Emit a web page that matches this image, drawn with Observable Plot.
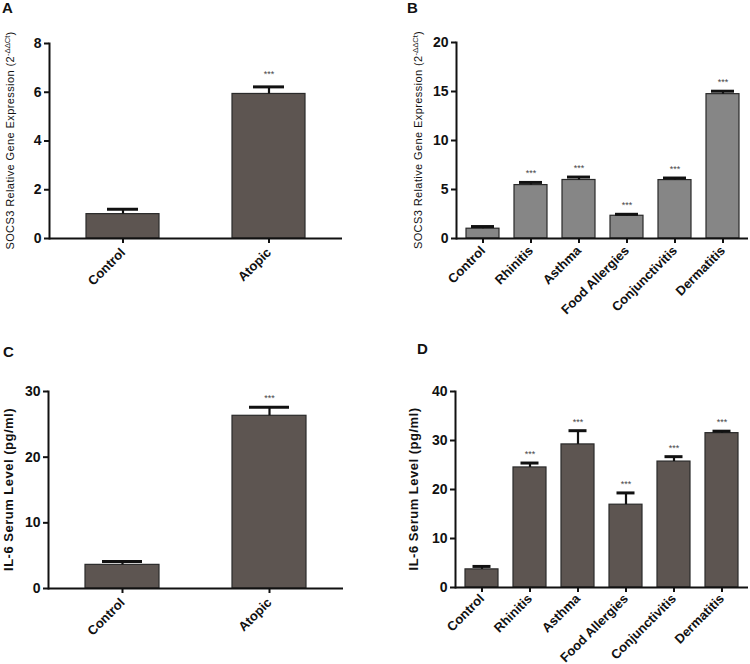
<!DOCTYPE html>
<html>
<head>
<meta charset="utf-8">
<script src="https://cdn.jsdelivr.net/npm/d3@7"></script>
<script src="https://cdn.jsdelivr.net/npm/@observablehq/plot@0.6"></script>
<style>
  body { margin: 0; background: #fff; }
  #wrap { position: relative; width: 750px; height: 664px; font-family: "Liberation Sans", Arial, sans-serif; overflow: hidden; }
  .panel { position: absolute; }
  .panel svg { overflow: visible; }
  .letter { position: absolute; font-weight: bold; font-size: 15px; color: #111; }
</style>
</head>
<body>
<div id="wrap"></div>
<script>
// ---- data ----
const groupsTwo = ["Control", "Atopic"];
const groupsSix = ["Control", "Rhinitis", "Asthma", "Food Allergies", "Conjunctivitis", "Dermatitis"];

const socsAtopicMean = [1.0, 5.93];
const socsAtopicErr  = [1.2, 6.22];

const socsDiseaseMean = [1.0, 5.45, 5.97, 2.32, 5.96, 14.73];
const socsDiseaseErr  = [1.22, 5.72, 6.27, 2.47, 6.17, 15.03];

const il6AtopicMean = [3.6, 26.3];
const il6AtopicErr  = [4.1, 27.6];

const il6DiseaseMean = [3.7, 24.5, 29.2, 16.9, 25.7, 31.5];
const il6DiseaseErr  = [4.3, 25.4, 32.0, 19.3, 26.7, 31.9];

const socsTicksA = [0, 2, 4, 6, 8];
const socsTicksB = [0, 5, 10, 15, 20];
const il6TicksC = [0, 10, 20, 30];
const il6TicksD = [0, 10, 20, 30, 40];

const stars = "***";
// ---------------

const FONT = "Liberation Sans, Arial, sans-serif";

function table(cats, means, errs) {
  return cats.map((c, i) => ({cat: c, value: means[i], err: errs[i], sig: i > 0 ? stars : ""}));
}

function panel(cfg) {
  const data = table(cfg.cats, cfg.means, cfg.errs);
  const svg = Plot.plot({
    width: cfg.width, height: cfg.height,
    marginLeft: cfg.ml, marginRight: cfg.mr, marginTop: cfg.mt, marginBottom: cfg.mb,
    style: {fontFamily: FONT, background: "transparent", color: "#111"},
    x: {domain: cfg.cats, paddingInner: cfg.pad, paddingOuter: cfg.pad / 2, label: null},
    y: {domain: [cfg.ticks[0], cfg.ticks[cfg.ticks.length - 1]], label: null},
    marks: [
      Plot.barY(data, {x: "cat", y: "value", fill: cfg.fill, stroke: "#2a2a2a", strokeWidth: 1.2}),
      Plot.ruleX(data, {x: "cat", y1: "value", y2: "err", stroke: "#111", strokeWidth: 2.2}),
      Plot.tickY(data, {x: "cat", y: "err", stroke: "#111", strokeWidth: 3, insetLeft: cfg.capInset, insetRight: cfg.capInset}),
      Plot.text(data, {x: "cat", y: "err", text: "sig", dy: -cfg.starGap, fontSize: 9, fill: "#444", fontFamily: FONT}),
      Plot.axisY({ticks: cfg.ticks, tickSize: 5, tickPadding: 3, fontSize: 14, fontWeight: "bold", strokeWidth: 2, label: null, fill: "#111"}),
      Plot.axisX({tickRotate: -45, tickSize: 5, tickPadding: cfg.xpad, fontSize: 13, fontWeight: "bold", strokeWidth: 2, label: null, fill: "#111"}),
      Plot.frame({anchor: "left", stroke: "#111", strokeWidth: 2}),
      Plot.ruleY([cfg.ticks[0]], {stroke: "#111", strokeWidth: 2})
    ]
  });
  // y-axis title
  const s = d3.select(svg);
  const cy = (cfg.mt + (cfg.height - cfg.mb)) / 2;
  const t = s.append("text")
    .attr("transform", `translate(${cfg.titleX},${cy}) rotate(-90)`)
    .attr("text-anchor", "middle")
    .attr("font-family", FONT)
    .attr("font-size", cfg.titleSize)
    .attr("font-weight", cfg.titleWeight)
    .attr("letter-spacing", cfg.titleSpacing)
    .attr("fill", "#111");
  t.append("tspan").text(cfg.title);
  if (cfg.sup) {
    t.append("tspan").attr("font-size", cfg.titleSize * 0.7).attr("dy", -4).attr("letter-spacing", 0).text(cfg.sup);
    t.append("tspan").attr("dy", 4).text(")");
  }
  return svg;
}

const wrap = document.getElementById("wrap");
function place(node, left, top) {
  const d = document.createElement("div");
  d.className = "panel";
  d.style.left = left + "px";
  d.style.top = top + "px";
  d.appendChild(node);
  wrap.appendChild(d);
}
function letter(txt, left, top) {
  const d = document.createElement("div");
  d.className = "letter";
  d.style.left = left + "px";
  d.style.top = top + "px";
  d.textContent = txt;
  wrap.appendChild(d);
}

place(panel({
  cats: groupsTwo, means: socsAtopicMean, errs: socsAtopicErr, ticks: socsTicksA,
  width: 375, height: 330, ml: 49, mr: 33, mt: 43, mb: 92, pad: 0.5, xpad: 7,
  fill: "#5d5551", capInset: 21, starGap: 13,
  title: "SOCS3 Relative Gene Expression (2", sup: "-ΔΔCt", titleX: 14, titleSize: 11, titleWeight: "normal", titleSpacing: 0.4
}), 0, 0);

place(panel({
  cats: groupsSix, means: socsDiseaseMean, errs: socsDiseaseErr, ticks: socsTicksB,
  width: 375, height: 330, ml: 81, mr: 2, mt: 42, mb: 92, pad: 0.32, xpad: 5,
  fill: "#868686", capInset: 5, starGap: 9,
  title: "SOCS3 Relative Gene Expression (2", sup: "-ΔΔCt", titleX: 47, titleSize: 11, titleWeight: "normal", titleSpacing: 0.4
}), 375, 0);

place(panel({
  cats: groupsTwo, means: il6AtopicMean, errs: il6AtopicErr, ticks: il6TicksC,
  width: 375, height: 334, ml: 48, mr: 32, mt: 61, mb: 76, pad: 0.5, xpad: 7,
  fill: "#5d5551", capInset: 17, starGap: 9,
  title: "IL-6 Serum Level (pg/ml)", sup: null, titleX: 13, titleSize: 13, titleWeight: "bold", titleSpacing: 0.5
}), 0, 330);

place(panel({
  cats: groupsSix, means: il6DiseaseMean, errs: il6DiseaseErr, ticks: il6TicksD,
  width: 375, height: 334, ml: 80, mr: 2, mt: 61, mb: 77, pad: 0.32, xpad: 4,
  fill: "#5d5551", capInset: 7.5, starGap: 9,
  title: "IL-6 Serum Level (pg/ml)", sup: null, titleX: 43, titleSize: 13, titleWeight: "bold", titleSpacing: 0.5
}), 375, 330);

letter("A", 2, -1);
letter("B", 407, -1);
letter("C", 3, 343);
letter("D", 417, 340);
</script>
</body>
</html>
